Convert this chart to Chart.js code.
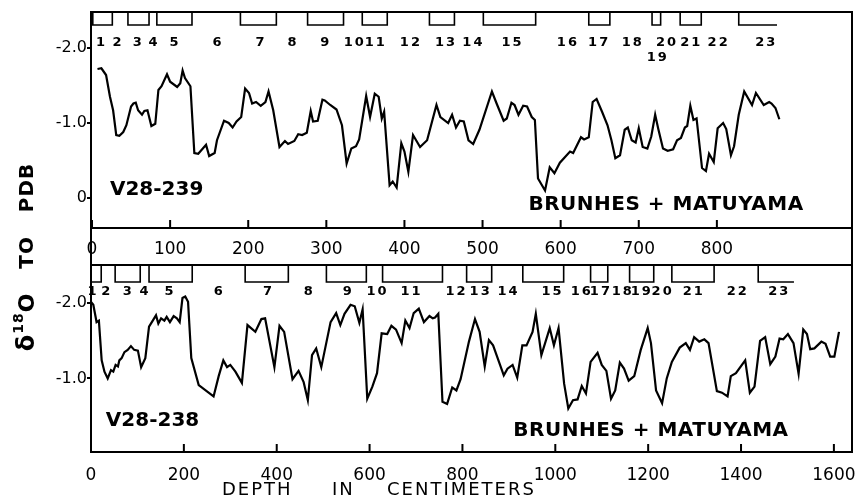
<!DOCTYPE html>
<html>
<head>
<meta charset="utf-8">
<script src="https://cdn.jsdelivr.net/npm/chart.js@4.4.0/dist/chart.umd.min.js"></script>
<style>
  html, body { margin: 0; padding: 0; background: #fff; }
  #wrap { position: relative; width: 856px; height: 499px; }
  #wrap canvas { position: absolute; left: 0; top: 0; }
</style>
</head>
<body>
<div id="wrap">
  <canvas id="topPanel" width="856" height="499"></canvas>
  <canvas id="botPanel" width="856" height="499"></canvas>
</div>
<script>
// V28-239 (top panel)
const topDepth = [7,12,18,23,27,31,35,40,44,50,53,56,59,64,67,71,76,81,85,89,96,100,109,113,116,119,126,131,136,146,150,157,160,169,175,180,185,191,196,201,205,210,216,222,226,232,240,247,251,259,264,269,275,280,283,289,295,298,305,313,320,326,332,338,342,351,356,362,367,371,374,381,385,390,396,400,405,411,420,429,441,446,456,461,466,471,476,482,488,496,512,518,527,531,537,541,546,552,557,563,567,571,580,586,592,599,612,616,626,630,636,641,646,653,660,665,670,676,682,686,691,696,700,705,711,716,721,725,731,737,744,749,754,759,762,766,770,774,781,786,790,796,801,808,812,818,822,828,835,845,850,860,867,870,875,880];
const topD18O = [-1.72,-1.73,-1.64,-1.35,-1.17,-0.84,-0.83,-0.88,-0.97,-1.22,-1.26,-1.27,-1.17,-1.11,-1.16,-1.17,-0.96,-0.99,-1.44,-1.49,-1.65,-1.55,-1.48,-1.53,-1.70,-1.60,-1.49,-0.60,-0.59,-0.71,-0.56,-0.60,-0.77,-1.03,-1.00,-0.94,-1.02,-1.08,-1.46,-1.40,-1.26,-1.28,-1.23,-1.28,-1.42,-1.17,-0.68,-0.76,-0.72,-0.76,-0.85,-0.84,-0.87,-1.16,-1.02,-1.03,-1.31,-1.30,-1.24,-1.18,-0.97,-0.46,-0.66,-0.69,-0.78,-1.36,-1.08,-1.39,-1.35,-1.06,-1.15,-0.17,-0.22,-0.14,-0.73,-0.62,-0.35,-0.84,-0.68,-0.77,-1.24,-1.08,-1.00,-1.11,-0.94,-1.03,-1.02,-0.77,-0.72,-0.91,-1.42,-1.26,-1.03,-1.06,-1.27,-1.24,-1.11,-1.23,-1.22,-1.08,-1.04,-0.26,-0.10,-0.41,-0.33,-0.47,-0.62,-0.60,-0.81,-0.78,-0.81,-1.28,-1.32,-1.15,-0.97,-0.77,-0.53,-0.57,-0.91,-0.94,-0.77,-0.74,-0.93,-0.68,-0.66,-0.82,-1.11,-0.92,-0.66,-0.63,-0.65,-0.77,-0.80,-0.94,-0.96,-1.23,-1.04,-1.06,-0.40,-0.36,-0.59,-0.48,-0.93,-1.00,-0.92,-0.57,-0.69,-1.11,-1.42,-1.24,-1.40,-1.24,-1.28,-1.26,-1.20,-1.05];

// V28-238 (bottom panel)
const botDepth = [0,5,12,17,23,29,36,43,48,53,58,61,66,72,79,86,93,101,108,117,125,134,140,145,151,158,163,170,178,185,191,197,203,209,216,232,264,275,285,293,300,311,325,337,354,367,375,395,406,416,434,447,458,467,476,485,496,516,528,537,546,559,568,578,585,595,606,616,626,638,647,657,669,677,686,695,706,717,729,736,741,748,757,767,778,787,796,814,827,837,848,857,866,889,897,908,918,929,938,951,958,970,988,997,1007,1019,1028,1038,1048,1057,1066,1076,1091,1100,1110,1120,1129,1139,1148,1158,1170,1184,1199,1206,1217,1230,1240,1251,1268,1281,1290,1299,1310,1321,1330,1348,1359,1371,1378,1389,1409,1419,1429,1441,1452,1463,1474,1483,1491,1501,1513,1524,1534,1542,1549,1558,1573,1582,1592,1601,1611];
const botD18O = [-2.02,-1.98,-1.75,-1.77,-1.24,-1.09,-1.00,-1.11,-1.09,-1.18,-1.16,-1.24,-1.27,-1.35,-1.38,-1.43,-1.38,-1.37,-1.15,-1.27,-1.69,-1.78,-1.84,-1.73,-1.80,-1.77,-1.82,-1.75,-1.83,-1.80,-1.75,-2.07,-2.09,-2.02,-1.27,-0.91,-0.76,-1.03,-1.24,-1.15,-1.18,-1.09,-0.94,-1.71,-1.62,-1.79,-1.80,-1.15,-1.70,-1.62,-0.99,-1.10,-0.95,-0.71,-1.31,-1.40,-1.15,-1.75,-1.87,-1.71,-1.86,-1.98,-1.96,-1.74,-1.92,-0.73,-0.89,-1.07,-1.60,-1.59,-1.70,-1.65,-1.47,-1.77,-1.67,-1.87,-1.93,-1.75,-1.83,-1.80,-1.81,-1.86,-0.69,-0.66,-0.88,-0.84,-0.99,-1.49,-1.79,-1.62,-1.16,-1.51,-1.44,-1.04,-1.13,-1.18,-1.01,-1.44,-1.44,-1.62,-1.86,-1.31,-1.67,-1.44,-1.67,-0.93,-0.60,-0.71,-0.72,-0.90,-0.80,-1.22,-1.34,-1.18,-1.10,-0.73,-0.84,-1.21,-1.13,-0.97,-1.03,-1.38,-1.67,-1.47,-0.84,-0.67,-1.00,-1.22,-1.41,-1.47,-1.38,-1.55,-1.49,-1.52,-1.47,-0.83,-0.81,-0.76,-1.03,-1.07,-1.24,-0.81,-0.89,-1.50,-1.55,-1.19,-1.29,-1.53,-1.52,-1.59,-1.47,-1.06,-1.65,-1.59,-1.39,-1.40,-1.49,-1.46,-1.29,-1.29,-1.62];

// isotope stages: odd (interglacial) stages boxed, in cm depth
const stageNames = ['1','2','3','4','5','6','7','8','9','10','11','12','13','14','15','16','17','18','19','20','21','22','23'];
const topBoxStart = [1,46,83,190,276,346,432,501,636,717,753,828];
const topBoxEnd   = [26,73,128,236,322,378,464,568,663,728,780,877];
const topStageAt  = [11,32,58,78,105,160,215,256,298,335,362,407,452,487,537,608,648,691,723,735,766,801,862];
const botBoxStart = [0,52,125,332,507,628,809,930,1076,1160,1251,1437];
const botBoxEnd   = [22,106,218,425,593,757,863,1018,1113,1212,1342,1514];
const botStageAt  = [2,32,78,114,168,274,380,468,552,615,688,785,837,897,992,1055,1096,1143,1184,1229,1296,1391,1480];

const topXTicks = [0,100,200,300,400,500,600,700,800];
const botXTicks = [0,200,400,600,800,1000,1200,1400,1600];
const topYTicks = [-2,-1,0];
const botYTicks = [-2,-1];

const FONT = '"DejaVu Sans", sans-serif';

const panelDecor = {
  id: 'panelDecor',
  afterDatasetsDraw(chart, args, o) {
    const { ctx, chartArea: a, scales: { x, y } } = chart;
    ctx.save();
    ctx.strokeStyle = '#000';
    ctx.fillStyle = '#000';
    ctx.lineWidth = 2;
    ctx.strokeRect(a.left, a.top, a.right - a.left, a.bottom - a.top);
    if (o.band) {
      ctx.beginPath();
      ctx.moveTo(a.left, a.top - o.band); ctx.lineTo(a.left, a.top);
      ctx.moveTo(a.right, a.top - o.band); ctx.lineTo(a.right, a.top);
      ctx.stroke();
    }
    // tick marks pointing into the plot
    ctx.beginPath();
    x.ticks.forEach(t => {
      const px = x.getPixelForValue(t.value);
      ctx.moveTo(px, a.bottom); ctx.lineTo(px, a.bottom - 8);
    });
    ctx.stroke();
    // stage boxes hanging from the top edge
    ctx.lineWidth = 1.6;
    o.boxStart.forEach((s, i) => {
      const x0 = x.getPixelForValue(s), x1 = x.getPixelForValue(o.boxEnd[i]);
      ctx.beginPath();
      ctx.moveTo(x0, a.top); ctx.lineTo(x0, a.top + o.boxH); ctx.lineTo(x1, a.top + o.boxH);
      if (i < o.boxStart.length - 1) ctx.lineTo(x1, a.top);
      ctx.stroke();
    });
    ctx.font = 'bold 13px ' + FONT;
    ctx.letterSpacing = '2px';
    ctx.textAlign = 'center';
    ctx.textBaseline = 'middle';
    o.stageAt.forEach((d, i) => {
      const low = o.lowered.includes(stageNames[i]);
      ctx.fillText(stageNames[i], x.getPixelForValue(d) + 1, a.top + o.labelDy + (low ? 15 : 0));
    });
    ctx.font = 'bold 20px ' + FONT;
    ctx.letterSpacing = '0px';
    ctx.textAlign = 'left';
    ctx.fillText(o.core, x.getPixelForValue(o.coreAt[0]), y.getPixelForValue(o.coreAt[1]));
    ctx.letterSpacing = '0.5px';
    ctx.textAlign = 'center';
    ctx.fillText('BRUNHES + MATUYAMA', x.getPixelForValue(o.magAt[0]), y.getPixelForValue(o.magAt[1]));
    if (o.titles) {
      // x title
      ctx.font = '18px ' + FONT;
      ctx.letterSpacing = '2px';
      ctx.textAlign = 'left';
      ctx.fillText('DEPTH', 222, 490);
      ctx.fillText('IN', 332, 490);
      ctx.fillText('CENTIMETERS', 387, 490);
      // y title, rotated
      ctx.letterSpacing = '1px';
      ctx.translate(28, 257);
      ctx.rotate(-Math.PI / 2);
      const parts = [
        { t: 'δ', f: 'bold 24px ', dy: 0 },
        { t: '18', f: 'bold 14px ', dy: -9 },
        { t: 'O', f: 'bold 22px ', dy: 0 },
        { t: '   TO   ', f: 'bold 20px ', dy: 0 },
        { t: 'PDB', f: 'bold 20px ', dy: 0 }
      ];
      let w = 0;
      parts.forEach(p => { ctx.font = p.f + FONT; p.w = ctx.measureText(p.t).width; w += p.w; });
      let cx = -w / 2;
      ctx.textAlign = 'left';
      parts.forEach(p => { ctx.font = p.f + FONT; ctx.fillText(p.t, cx, p.dy); cx += p.w; });
    }
    ctx.restore();
  }
};

function makePanel(id, depth, vals, sc, pad, decor) {
  return new Chart(document.getElementById(id), {
    type: 'scatter',
    data: {
      datasets: [{
        data: depth.map((d, i) => ({ x: d, y: vals[i] })),
        showLine: true,
        borderColor: '#000',
        borderWidth: 2.2,
        pointRadius: 0,
        tension: 0
      }]
    },
    options: {
      responsive: false,
      animation: false,
      events: [],
      layout: { padding: pad },
      plugins: { legend: { display: false }, tooltip: { enabled: false }, panelDecor: decor },
      scales: {
        x: {
          type: 'linear', min: sc.xMin, max: sc.xMax,
          afterBuildTicks: s => { s.ticks = sc.xTicks.map(v => ({ value: v })); },
          afterFit: s => { s.height = sc.xH; s.paddingLeft = 0; s.paddingRight = 0; },
          grid: { display: false },
          border: { display: false },
          ticks: { color: '#000', font: { family: FONT, size: 17 }, padding: sc.xPad, maxRotation: 0, autoSkip: false, callback: v => String(v) }
        },
        y: {
          type: 'linear', reverse: true, min: sc.yMin, max: sc.yMax,
          afterBuildTicks: s => { s.ticks = sc.yTicks.map(v => ({ value: v })); },
          afterFit: s => { s.width = 91; },
          grid: { display: true, drawOnChartArea: false, drawTicks: true, tickLength: 4, color: '#000', lineWidth: 2 },
          border: { display: false },
          ticks: { color: '#000', font: { family: FONT, size: 16 }, padding: 0, callback: v => v === 0 ? '0' : v.toFixed(1) }
        }
      }
    },
    plugins: [panelDecor]
  });
}

makePanel('topPanel', topDepth, topD18O,
  { xMin: -1.3, xMax: 973, xTicks: topXTicks, xH: 30, xPad: 3, yMin: -2.48, yMax: 0.4, yTicks: topYTicks },
  { left: 0, top: 12, right: 4, bottom: 241 },
  { boxStart: topBoxStart, boxEnd: topBoxEnd, boxH: 13, stageAt: topStageAt, labelDy: 31, lowered: ['19'],
    core: 'V28-239', coreAt: [23, -0.11], magAt: [735, 0.09] });

makePanel('botPanel', botDepth, botD18O,
  { xMin: 0, xMax: 1639, xTicks: botXTicks, xH: 47, xPad: 5, yMin: -2.51, yMax: -0.02, yTicks: botYTicks },
  { left: 0, top: 265, right: 4, bottom: 0 },
  { boxStart: botBoxStart, boxEnd: botBoxEnd, boxH: 17, stageAt: botStageAt, labelDy: 27, lowered: [],
    core: 'V28-238', coreAt: [32, -0.44], magAt: [1206, -0.30], band: 37, titles: true });
</script>
</body>
</html>
